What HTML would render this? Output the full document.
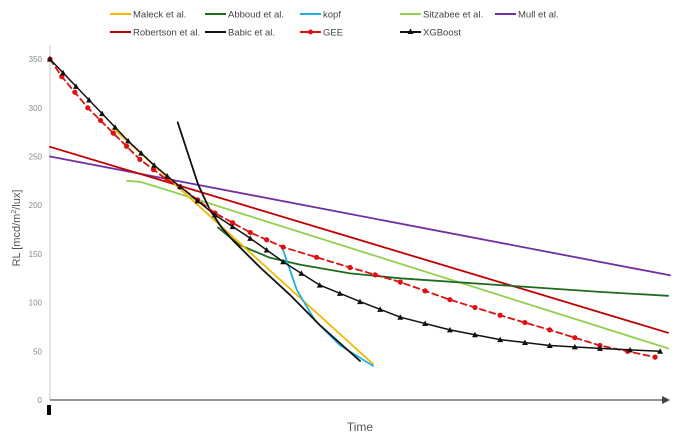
<!DOCTYPE html>
<html><head><meta charset="utf-8"><style>
body{margin:0;background:#fff;}
svg{display:block;font-family:"Liberation Sans",sans-serif;}
</style></head><body>
<svg id="chart" width="685" height="446"></svg>
<script>
const times_maleck=[10.2,52.1];
const rl_maleck=[279,37];
const times_abboud=[27.1,30.6,35.5,40.3,48.4,56.5,72.6,88.7,99.7];
const rl_abboud=[177,159,146,139,130,125,118,111,107];
const times_kopf=[37.6,39.8,42.7,46.8,52.1];
const rl_kopf=[154,113,82,56,35];
const times_sitzabee=[12.4,14.5,17.7,99.7];
const rl_sitzabee=[225,224,218,53];
const times_mull=[0,100];
const rl_mull=[250,128];
const times_robertson=[0,99.7];
const rl_robertson=[260,69];
const times_babic=[20.6,22.3,23.9,25.8,27.7,29.5,33.9,38.7,43.5,50];
const rl_babic=[285,252,221,195,177,164,136,108,77,40];
const times_gee=[0,1.9,6.1,10.2,14.5,18.9,21,26.6,32.3,37.6,48.4,56.5,64.5,72.6,80.6,88.7,97.6];
const rl_gee=[350,332,300,274,247,226,219,192,172,157,136,121,103,87,72,56,44];
const times_xgb=[0,4.2,8.4,12.6,16.8,21,26.6,32.3,37.6,43.5,50,56.5,64.5,72.6,80.6,88.7,98.4];
const rl_xgb=[350,322,294,266,241,219,190,166,142,118,101,85,72,62,56,53,50];
const yTicks=[0,50,100,150,200,250,300,350];

const NS="http://www.w3.org/2000/svg";
const svg=document.getElementById('chart');
const X=t=>50+t*6.2;
const Y=v=>400-v*0.974;
function mk(tag,attrs,parent){const e=document.createElementNS(NS,tag);for(const k in attrs)e.setAttribute(k,attrs[k]);(parent||svg).appendChild(e);return e;}

let ya=mk('line',{x1:50,y1:45,x2:50,y2:400,stroke:'#d0d0d0','stroke-width':1.2});


let xa=mk('line',{x1:50,y1:400,x2:664,y2:400,stroke:'#555','stroke-width':1.3});


let ar=mk('polygon',{points:'670,400 662,396 662,404',fill:'#444'});


let tm=mk('rect',{x:47,y:405,width:4,height:10,fill:'#000'});


yTicks.forEach(v=>{
  const t=mk('text',{x:42,y:Y(v)+3,'font-size':8,fill:'#888','text-anchor':'end'});
  t.textContent=v;
  
  
});
let yt=mk('text',{x:0,y:0,'font-size':11,fill:'#555','text-anchor':'middle',transform:'translate(20,228) rotate(-90)'});
yt.innerHTML='RL [mcd/m<tspan dy="-4" font-size="7">2</tspan><tspan dy="4">/lux]</tspan>';


let xt=mk('text',{x:360,y:431,'font-size':12,fill:'#555','text-anchor':'middle'});
xt.textContent='Time';



function series(ts,vs,color,w,name,dash){
  const pts=ts.map((t,i)=>X(t).toFixed(1)+','+Y(vs[i]).toFixed(1)).join(' ');
  const p=mk('polyline',{points:pts,fill:'none',stroke:color,'stroke-width':w,'stroke-linejoin':'round','stroke-linecap':'round'});
  if(dash)p.setAttribute('stroke-dasharray',dash);
  
  
  return p;
}
function markers(ts,vs,color,type,name,mid){
  const pos=[];
  ts.forEach((t,i)=>{pos.push([X(t),Y(vs[i])]);if(i<ts.length-1&&X(ts[i+1])-X(t)>20)pos.push([(X(t)+X(ts[i+1]))/2,(Y(vs[i])+Y(vs[i+1]))/2]);});
  pos.forEach(([x,y])=>{
    let m;
    if(type==='tri')m=mk('polygon',{points:`${x},${y-3} ${x-3},${y+2.5} ${x+3},${y+2.5}`,fill:color});
    else m=mk('circle',{cx:x,cy:y,r:2.6,fill:color});
    
    
  });
}
series(times_mull,rl_mull,'#7030a0',1.8,'mull-line');
series(times_robertson,rl_robertson,'#c00000',1.8,'robertson-line');
series(times_sitzabee,rl_sitzabee,'#92d050',1.8,'sitzabee-line');
series(times_abboud,rl_abboud,'#1e6b1e',1.8,'abboud-line');
series(times_maleck,rl_maleck,'#f0b800',1.8,'maleck-line');
series(times_kopf,rl_kopf,'#1fb0e0',1.8,'kopf-line');
series(times_babic,rl_babic,'#111',1.8,'babic-line');
series(times_gee,rl_gee,'#e01010',1.8,'gee-line','6,4');
markers(times_gee,rl_gee,'#e01010','dot','gee-marker');
series(times_xgb,rl_xgb,'#111',1.5,'xgboost-line');
markers(times_xgb,rl_xgb,'#111','tri','xgboost-marker');

const legend=[
 ['Maleck et al.','#f0b800',110,14,''],['Abboud et al.','#1e6b1e',205,14,''],['kopf','#1fb0e0',300,14,''],['Sitzabee et al.','#92d050',400,14,''],['Mull et al.','#7030a0',495,14,''],
 ['Robertson et al.','#c00000',110,32,''],['Babic et al.','#111',205,32,''],['GEE','#e01010',300,32,'dot'],['XGBoost','#111',400,32,'tri']
];
legend.forEach(([lab,c,x,y,m])=>{
  const g=mk('g',{});
  
  
  mk('line',{x1:x,y1:y,x2:x+21,y2:y,stroke:c,'stroke-width':2},g);
  if(m==='dot')mk('circle',{cx:x+10.5,cy:y,r:2.5,fill:c},g);
  if(m==='tri')mk('polygon',{points:`${x+10.5},${y-3.5} ${x+7.5},${y+2} ${x+13.5},${y+2}`,fill:c},g);
  const t=mk('text',{x:x+23,y:y+3.5,'font-size':9.5,fill:'#444'},g);
  t.textContent=lab;
});
</script>
</body></html>
